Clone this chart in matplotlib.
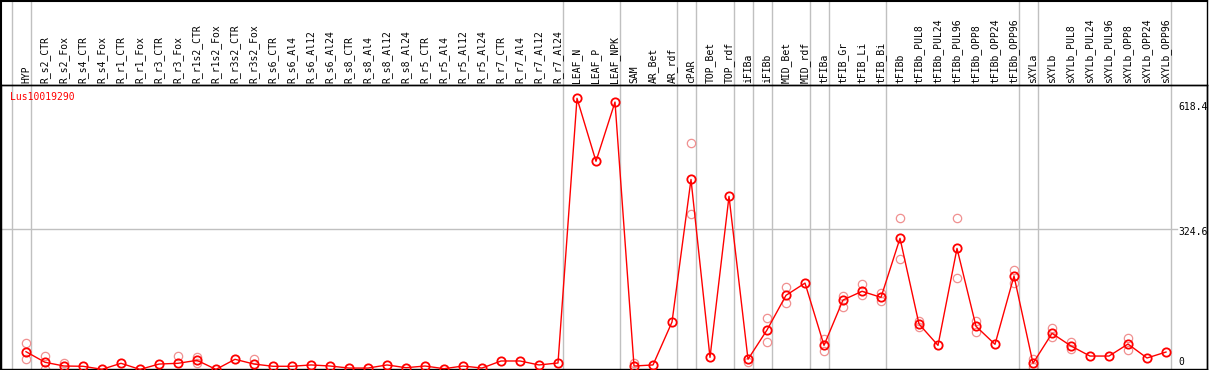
import numpy as np
import matplotlib
matplotlib.use("Agg")
import matplotlib.pyplot as plt
import matplotlib.transforms as mtransforms
from matplotlib.lines import Line2D

# ---------------- data ----------------
title = "Lus10019290"
categories = [
    "HYP", "R_s2_CTR", "R_s2_Fox", "R_s4_CTR", "R_s4_Fox", "R_r1_CTR", "R_r1_Fox",
    "R_r3_CTR", "R_r3_Fox", "R_r1s2_CTR", "R_r1s2_Fox", "R_r3s2_CTR", "R_r3s2_Fox",
    "R_s6_CTR", "R_s6_Al4", "R_s6_Al12", "R_s6_Al24", "R_s8_CTR", "R_s8_Al4",
    "R_s8_Al12", "R_s8_Al24", "R_r5_CTR", "R_r5_Al4", "R_r5_Al12", "R_r5_Al24",
    "R_r7_CTR", "R_r7_Al4", "R_r7_Al12", "R_r7_Al24", "LEAF_N", "LEAF_P", "LEAF_NPK",
    "SAM", "AR_Bet", "AR_rdf", "cPAR", "TOP_Bet", "TOP_rdf", "iFIBa", "iFIBb",
    "MID_Bet", "MID_rdf", "tFIBa", "tFIB_Gr", "tFIB_Li", "tFIB_Bi", "tFIBb",
    "tFIBb_PUL8", "tFIBb_PUL24", "tFIBb_PUL96", "tFIBb_OPP8", "tFIBb_OPP24",
    "tFIBb_OPP96", "sXYLa", "sXYLb", "sXYLb_PUL8", "sXYLb_PUL24", "sXYLb_PUL96",
    "sXYLb_OPP8", "sXYLb_OPP24", "sXYLb_OPP96",
]

mean_values = [
    48.8, 25.0, 16.6, 16.0, 9.2, 22.7, 9.0, 21.0, 22.7, 29.4, 9.0, 31.7, 21.0,
    16.0, 16.0, 19.0, 16.6, 12.0, 12.0, 19.0, 12.8, 16.6, 10.6, 16.6, 12.0,
    27.9, 27.9, 19.0, 23.4, 618.4, 476.8, 610.0,
    16.6, 19.0, 115.5, 436.0, 36.0, 398.0, 31.7, 97.6,
    175.5, 203.0, 63.0, 165.0, 184.5, 171.0, 303.7,
    111.0, 63.0, 281.0, 105.9, 65.4, 219.0,
    22.7, 90.0, 61.6, 39.0, 39.0, 66.0, 34.6, 48.0,
]

nan = np.nan
replicate_high = [
    67.7, 39.0, 24.0, nan, nan, nan, nan, nan, 39.0, 36.0, nan, nan, 31.7,
    nan, nan, nan, nan, nan, nan, nan, nan, nan, nan, nan, nan,
    nan, nan, nan, nan, nan, nan, nan,
    22.7, nan, nan, 517.0, nan, nan, 25.6, 124.5,
    193.5, nan, 76.6, 174.0, 201.0, 181.4, 348.7,
    118.5, nan, 348.7, 118.5, nan, 232.4,
    31.7, 102.0, 70.6, nan, nan, 79.6, nan, nan,
]
replicate_low = [
    33.0, 10.0, nan, nan, nan, nan, nan, nan, nan, 24.0, nan, nan, nan,
    nan, nan, nan, nan, nan, nan, nan, nan, nan, nan, nan, nan,
    nan, nan, nan, nan, nan, nan, nan,
    nan, nan, nan, 357.6, nan, nan, nan, 70.6,
    157.6, nan, 51.0, 150.0, 177.0, 162.0, 257.0,
    103.6, nan, 213.8, 92.4, nan, 202.5,
    13.7, 81.0, 54.0, nan, nan, 52.6, nan, nan,
]

# group separators (drawn just right of these category indices)
separators_after = [-1, 0, 28, 31, 34, 35, 37, 38, 39, 41, 42, 45, 52, 53, 60]

axis_labels = ["618.4", "324.6", "0"]
grid_value = 324.6

# ---------------- figure ----------------
W, H = 1209, 370
DPI = 100
fig = plt.figure(figsize=(W / DPI, H / DPI), dpi=DPI)
fig.patch.set_facecolor("white")

FONT = "DejaVu Sans Mono"
FS = 7

# plot area in pixels (from top-left)
px_left, px_right = 1, 1207
px_top, px_bottom = 85, 369
ax = fig.add_axes([px_left / W, (H - px_bottom) / H,
                   (px_right - px_left) / W, (px_bottom - px_top) / H])

x0_px, dx_px = 26.0, 19.0
ax.set_xlim((px_left - x0_px) / dx_px, (px_right - x0_px) / dx_px)
# value scale: 2.248 units per pixel, zero a little below the frame
zero_px, units_per_px = 373.4, 2.248
ax.set_ylim((zero_px - px_bottom) * units_per_px, (zero_px - px_top) * units_per_px)

for s in ax.spines.values():
    s.set_color("black")
    s.set_linewidth(1.0)
ax.set_xticks([])
ax.set_yticks([])

x = np.arange(len(categories))

# vertical separators (extend through label area)
trans_xd_yf = mtransforms.blended_transform_factory(ax.transData, fig.transFigure)
for i in separators_after:
    ax.add_line(Line2D([i + 0.247, i + 0.247], [1.0 / H, 1.0], transform=trans_xd_yf,
                       color="#C0C0C0", lw=1.0, clip_on=False, zorder=1))

# horizontal grid line
trans_xf_yd = mtransforms.blended_transform_factory(fig.transFigure, ax.transData)
ax.add_line(Line2D([px_left / W, 1177 / W], [grid_value, grid_value], transform=trans_xf_yd,
                   color="#C0C0C0", lw=1.0, clip_on=False, zorder=1))

# replicates
ax.plot(x, replicate_high, linestyle="none", marker="o", markersize=6,
        markerfacecolor="none", markeredgecolor="#F09090", markeredgewidth=0.9, zorder=2)
ax.plot(x, replicate_low, linestyle="none", marker="o", markersize=6,
        markerfacecolor="none", markeredgecolor="#F09090", markeredgewidth=0.9, zorder=2)

# mean line
ax.plot(x, mean_values, color="red", lw=1.0, marker="o", markersize=6,
        markerfacecolor="none", markeredgecolor="red", markeredgewidth=1.3, zorder=3,
        clip_on=False)

# category labels (rotated) above the plot
for i, lab in enumerate(categories):
    ax.text(i, (H - 83) / H, lab, transform=trans_xd_yf, rotation=90,
            ha="center", va="bottom", fontsize=FS, family=FONT, color="black",
            clip_on=False)

# title
fig.text(10 / W, (H - 97) / H, title, color="red", fontsize=FS, family=FONT,
         ha="left", va="center")

# right-hand value labels
for lab, ypx in zip(axis_labels, [107, 232, 362]):
    fig.text(1178 / W, (H - ypx) / H, lab, color="black", fontsize=FS, family=FONT,
             ha="left", va="center")

# outer frame and separator line under labels
fig.add_artist(Line2D([1 / W, 1 / W], [0, 1], transform=fig.transFigure, color="black", lw=1.5))
fig.add_artist(Line2D([0, px_right / W], [1 - 0.5 / H, 1 - 0.5 / H], transform=fig.transFigure,
                      color="black", lw=1.5))
fig.add_artist(Line2D([px_right / W, px_right / W], [(H - px_bottom) / H, 1],
                      transform=fig.transFigure, color="black", lw=1.0))
fig.add_artist(Line2D([0, px_right / W], [(H - px_top) / H, (H - px_top) / H],
                      transform=fig.transFigure, color="black", lw=1.0))

fig.savefig("out.png", dpi=DPI)
